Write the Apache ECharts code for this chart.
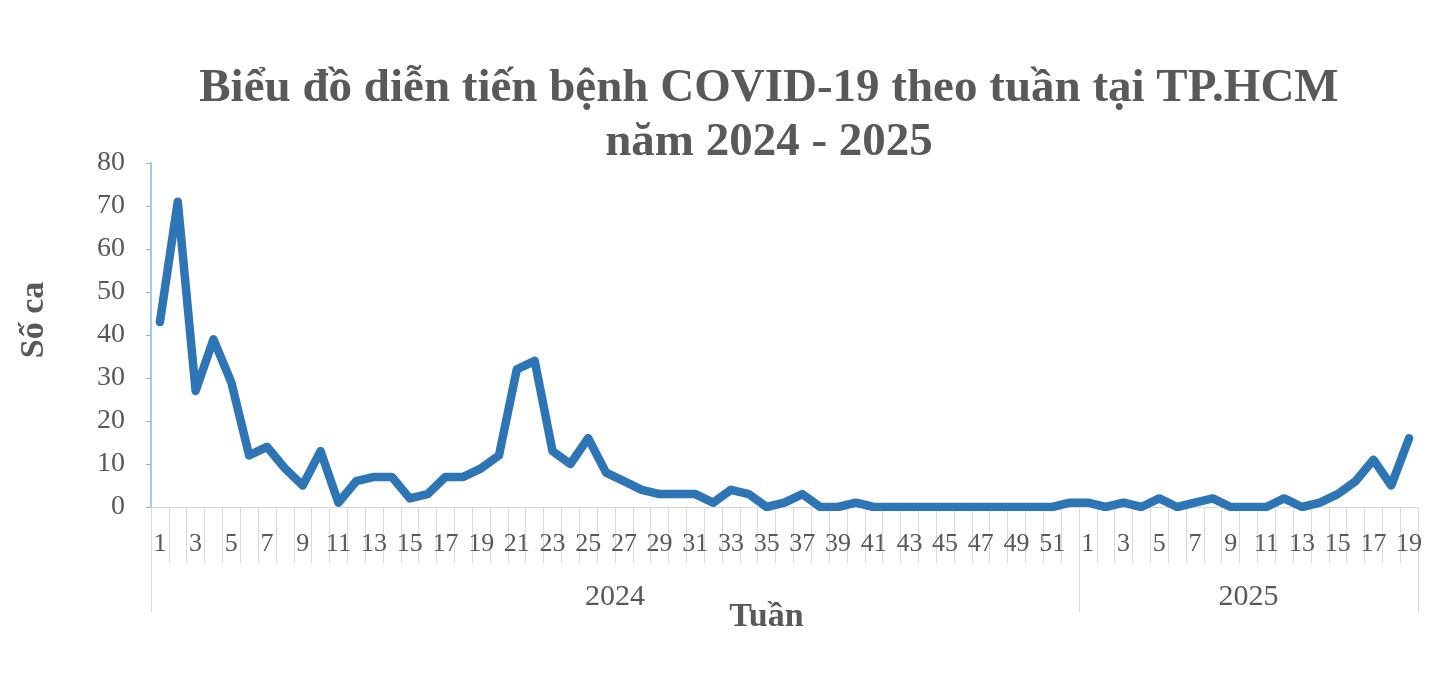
<!DOCTYPE html>
<html>
<head>
<meta charset="utf-8">
<script src="https://cdn.jsdelivr.net/npm/echarts@6/dist/echarts.min.js"></script>
<style>html,body{margin:0;padding:0;background:#fff}#c{width:1442px;height:677px}</style>
</head>
<body>
<div id="c"></div>
<script>
const weeks2024 = Array.from({length: 52}, (_, i) => String(i + 1));
const weeks2025 = Array.from({length: 19}, (_, i) => String(i + 1));
const cases2024 = [43, 71, 27, 39, 29, 12, 14, 9, 5, 13,
                   1, 6, 7, 7, 2, 3, 7, 7, 9, 12,
                   32, 34, 13, 10, 16, 8, 6, 4, 3, 3,
                   3, 1, 4, 3, 0, 1, 3, 0, 0, 1,
                   0, 0, 0, 0, 0, 0, 0, 0, 0, 0,
                   0, 1];
const cases2025 = [1, 0, 1, 0, 2, 0, 1, 2, 0, 0,
                   0, 2, 0, 1, 3, 6, 11, 5, 16];
const yearLabels = ['2024', '2025'];
const yTicks = [0, 10, 20, 30, 40, 50, 60, 70, 80];

const categories = weeks2024.concat(weeks2025);
const values = cases2024.concat(cases2025);
const n1 = weeks2024.length, n = categories.length;
const yearCenters = [n1 / 2, n1 + weeks2025.length / 2];

const FONT = '"Liberation Serif", "Times New Roman", serif';
const GREY = '#595959';

const chart = echarts.init(document.getElementById('c'), null, {renderer: 'canvas'});
chart.setOption({
  animation: false,
  title: {
    text: 'Biểu đồ diễn tiến bệnh COVID-19 theo tuần tại TP.HCM\nnăm 2024 - 2025',
    left: 764, top: 57, textAlign: 'center',
    textStyle: {fontFamily: FONT, fontSize: 47, fontWeight: 'bold', color: GREY, lineHeight: 54}
  },
  grid: {left: 151, right: 24, top: 163, bottom: 170, containLabel: false},
  xAxis: [{
    type: 'category', data: categories, boundaryGap: true,
    name: 'Tuần', nameLocation: 'middle', nameGap: 93,
    nameTextStyle: {fontFamily: FONT, fontSize: 34, fontWeight: 'bold', color: GREY, padding: [0, 36, 0, 0]},
    axisLine: {show: true, lineStyle: {color: '#d9d9d9', width: 1}},
    axisTick: {show: true, interval: 0, length: 56, lineStyle: {color: '#d9d9d9'}},
    axisLabel: {interval: 1, margin: 24, fontFamily: FONT, fontSize: 26, color: GREY},
    splitLine: {show: false}
  }, {
    type: 'value', min: 0, max: n, position: 'bottom',
    axisLine: {show: false},
    axisTick: {show: true, customValues: [0, n1, n], length: 105, lineStyle: {color: '#d9d9d9'}},
    axisLabel: {show: true, customValues: yearCenters, margin: 75, fontFamily: FONT, fontSize: 30, color: GREY,
      formatter: v => (v < n1 ? yearLabels[0] : yearLabels[1])},
    splitLine: {show: false}
  }],
  yAxis: {
    type: 'value', min: yTicks[0], max: yTicks[yTicks.length - 1], interval: 10,
    name: 'Số ca', nameLocation: 'middle', nameGap: 100, nameRotate: 90,
    nameTextStyle: {fontFamily: FONT, fontSize: 34, fontWeight: 'bold', color: GREY, padding: [0, 0, 0, 30]},
    axisLine: {show: true, lineStyle: {color: '#8ab8e6', width: 1.5}},
    axisTick: {show: true, length: 5, lineStyle: {color: '#8ab8e6'}},
    axisLabel: {margin: 26, fontFamily: FONT, fontSize: 28, color: GREY},
    splitLine: {show: false}
  },
  series: [{
    type: 'line', data: values, xAxisIndex: 0, showSymbol: false, symbol: 'none',
    lineStyle: {color: '#2e75b6', width: 8.5, cap: 'round', join: 'round'}
  }]
});
</script>
</body>
</html>
